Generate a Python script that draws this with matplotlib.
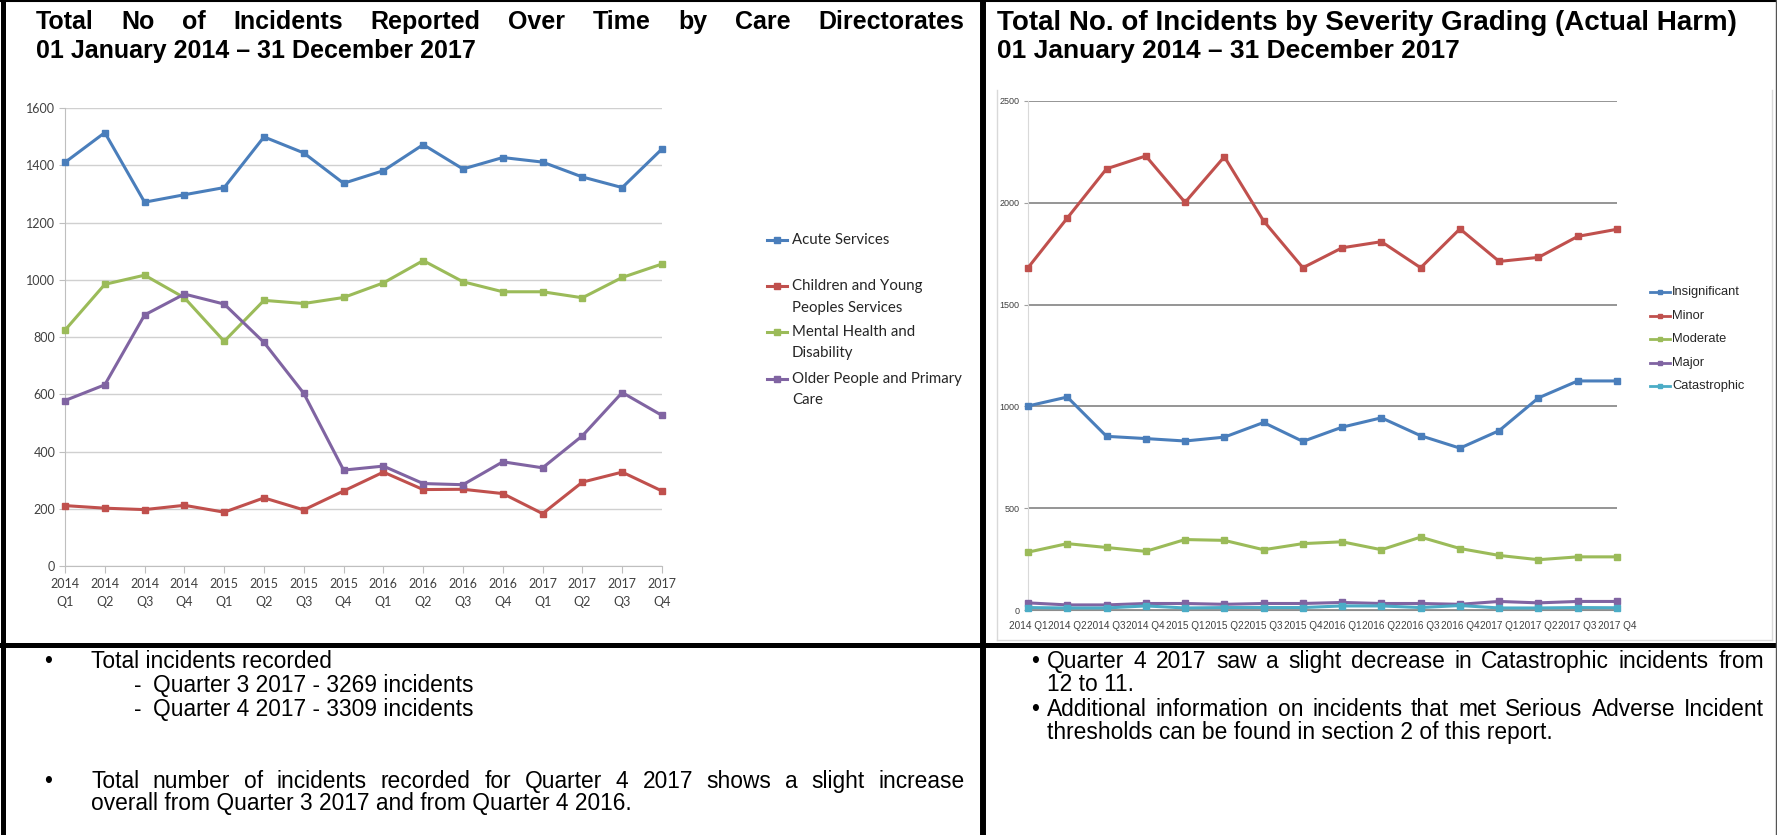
import matplotlib
matplotlib.use('Agg')
import matplotlib.pyplot as plt
from matplotlib.lines import Line2D
from matplotlib import font_manager

W, H = 1777, 835

# ---------------- data ----------------
quarters_left = ['2014\nQ1', '2014\nQ2', '2014\nQ3', '2014\nQ4',
                 '2015\nQ1', '2015\nQ2', '2015\nQ3', '2015\nQ4',
                 '2016\nQ1', '2016\nQ2', '2016\nQ3', '2016\nQ4',
                 '2017\nQ1', '2017\nQ2', '2017\nQ3', '2017\nQ4']
quarters_right = [q.replace('\n', ' ') for q in quarters_left]

acute = [1410, 1514, 1271, 1297, 1322, 1499, 1443, 1337,
         1381, 1472, 1387, 1427, 1411, 1359, 1322, 1457]
children = [211, 202, 197, 212, 188, 238, 196, 262,
            328, 267, 268, 253, 183, 293, 328, 262]
mental = [824, 984, 1016, 937, 785, 928, 917, 938,
          989, 1067, 993, 958, 958, 937, 1008, 1055]
older = [578, 633, 877, 950, 915, 781, 603, 335,
         349, 288, 284, 364, 343, 455, 606, 526]
left_labels = ['Acute Services', 'Children and Young\nPeoples Services',
               'Mental Health and\nDisability', 'Older People and Primary\nCare']

insignificant = [1002, 1046, 853, 842, 830, 849, 921, 828,
                 898, 944, 856, 795, 881, 1042, 1125, 1125]
minor = [1681, 1925, 2167, 2230, 2002, 2226, 1911, 1681,
         1779, 1809, 1681, 1872, 1712, 1732, 1835, 1870]
moderate = [284, 326, 307, 288, 346, 342, 296, 326,
            335, 296, 358, 302, 268, 247, 261, 261]
major = [35, 25, 25, 32, 32, 28, 32, 32, 37, 32, 32, 28, 42, 35, 42, 42]
catastrophic = [12, 10, 10, 20, 10, 12, 12, 12, 20, 20, 12, 22, 10, 10, 12, 11]
right_labels = ['Insignificant', 'Minor', 'Moderate', 'Major', 'Catastrophic']

colors = ['#4A7EBB', '#C0504D', '#9BBB59', '#8064A2', '#4BACC6']

left_title = ['Total No of Incidents Reported Over Time by Care Directorates',
              '01 January 2014 \u2013 31 December 2017']
right_title = ['Total No. of Incidents by Severity Grading (Actual Harm)',
               '01 January 2014 \u2013 31 December 2017']

# ---------------- fonts ----------------
avail = {f.name for f in font_manager.fontManager.ttflist}
NARROW = 'Liberation Sans Narrow' if 'Liberation Sans Narrow' in avail else 'Liberation Sans'
ARIAL = 'Liberation Sans'
CAL = 'Lato'

fig = plt.figure(figsize=(W / 100, H / 100), dpi=100)
fig.patch.set_facecolor('white')


def fx(x):
    return x / W


def fy(y):
    return 1 - y / H


def add_ax(x0, y0, x1, y1):
    return fig.add_axes([fx(x0), fy(y1), (x1 - x0) / W, (y1 - y0) / H])


renderer = fig.canvas.get_renderer()


def base(y, fontsize):
    # convert a visual centre (cap-height centre) to a baseline position
    return y + 0.358 * fontsize * 100 / 72


def put(x, y, s, **kw):
    return fig.text(fx(x), fy(base(y, kw['fontsize'])), s, va='baseline', ha='left', **kw)


def justify(text, x0, x1, y, **kw):
    words = text.split(' ')
    arts = [put(0, y, w, **kw) for w in words]
    widths = [a.get_window_extent(renderer).width for a in arts]
    gap = (x1 - x0 - sum(widths)) / (len(words) - 1)
    x = x0
    for a, wdt in zip(arts, widths):
        a.set_x(fx(x))
        x += wdt + gap


# ---------------- left chart ----------------
axL = add_ax(65, 108, 662, 566)
xs = list(range(len(quarters_left)))
for vals, c in zip([acute, children, mental, older], colors):
    axL.plot(xs, vals, color=c, lw=2.2, marker='s', ms=5, mec=c, clip_on=False, zorder=3)
axL.set_xlim(0, 15)
axL.set_ylim(0, 1600)
axL.set_yticks(range(0, 1601, 200))
axL.set_xticks(xs)
axL.set_xticklabels(quarters_left, fontsize=9, family=CAL, color='#404040', linespacing=1.6)
axL.tick_params(axis='y', labelsize=9, colors='#404040', length=4, color='#bfbfbf', pad=3)
axL.tick_params(axis='x', length=5, color='#bfbfbf', pad=4)
for lab in axL.get_yticklabels():
    lab.set_family(CAL)
axL.grid(axis='y', color='#d0d0d0', lw=1)
axL.set_axisbelow(True)
for s in ['top', 'right']:
    axL.spines[s].set_visible(False)
axL.spines['left'].set_color('#bfbfbf')
axL.spines['bottom'].set_color('#bfbfbf')

# left legend
leg_y = [240, 286, 332, 379]
for lab, c, y in zip(left_labels, colors, leg_y):
    fig.add_artist(Line2D([fx(767), fx(787)], [fy(y), fy(y)], color=c, lw=2.2))
    fig.add_artist(Line2D([fx(777)], [fy(y)], color=c, marker='s', ms=4.5))
    for i, line in enumerate(lab.split('\n')):
        fig.text(fx(792), fy(y + i * 21.5), line, fontsize=10.8, family=CAL,
                 color='#262626', va='center', ha='left')

# ---------------- right chart ----------------
axR = add_ax(1028, 101, 1617, 610)
for vals, c in zip([insignificant, minor, moderate, major, catastrophic], colors):
    axR.plot(xs, vals, color=c, lw=2.2, marker='s', ms=4.5, mec=c, clip_on=False, zorder=3)
axR.set_xlim(0, 15)
axR.set_ylim(0, 2500)
axR.set_yticks(range(0, 2501, 500))
axR.set_xticks(xs)
axR.set_xticklabels(quarters_right, fontsize=7.2, family=NARROW, color='#404040')
axR.tick_params(axis='y', labelsize=6.5, colors='#404040', length=3, color='#a0a0a0', pad=3)
axR.tick_params(axis='x', length=0, pad=8)
for lab in axR.get_yticklabels():
    lab.set_family(NARROW)
axR.grid(axis='y', color='#8c8c8c', lw=1.3)
axR.set_axisbelow(True)
for s in ['top', 'right']:
    axR.spines[s].set_visible(False)
axR.spines['left'].set_color('#d9d9d9')
axR.spines['bottom'].set_color('#8c8c8c')

rleg_y = [292, 316, 339, 363, 386]
for lab, c, y in zip(right_labels, colors, rleg_y):
    fig.add_artist(Line2D([fx(1650), fx(1670)], [fy(y), fy(y)], color=c, lw=2))
    fig.add_artist(Line2D([fx(1660)], [fy(y)], color=c, marker='s', ms=3.5))
    fig.text(fx(1672), fy(y), lab, fontsize=9.3, family=NARROW, color='#262626',
             va='center', ha='left')

# chart frame of right chart (left, bottom, right sides)
FR = '#d9d9d9'
fig.add_artist(Line2D([fx(997), fx(997)], [fy(90), fy(640)], color=FR, lw=1))
fig.add_artist(Line2D([fx(997), fx(1772)], [fy(640), fy(640)], color=FR, lw=1))
fig.add_artist(Line2D([fx(1772), fx(1772)], [fy(90), fy(640)], color=FR, lw=1))

# ---------------- titles ----------------
TT = dict(fontsize=18, family=ARIAL, weight='bold', color='black')
justify(left_title[0], 36, 964, 20, **TT)
put(36, 49, left_title[1], **TT)
put(997, 20, right_title[0], fontsize=20, family=ARIAL, weight='bold', color='black')
put(997, 49, right_title[1], fontsize=19, family=ARIAL, weight='bold', color='black')

# ---------------- bottom texts ----------------
TF = dict(fontsize=16.4, family=ARIAL, color='black')
put(44, 660, '\u2022', **TF)
put(91, 660, 'Total incidents recorded', **TF)
put(134, 684, '-', **TF)
put(153, 684, 'Quarter 3 2017 - 3269 incidents', **TF)
put(134, 708, '-', **TF)
put(153, 708, 'Quarter 4 2017 - 3309 incidents', **TF)
put(44, 780, '\u2022', **TF)
justify('Total number of incidents recorded for Quarter 4 2017 shows a slight increase',
        91, 965, 780, **TF)
put(91, 802, 'overall from Quarter 3 2017 and from Quarter 4 2016.', **TF)

put(1031, 660, '\u2022', **TF)
justify('Quarter 4 2017 saw a slight decrease in Catastrophic incidents from',
        1047, 1764, 660, **TF)
put(1047, 683, '12 to 11.', **TF)
put(1031, 708, '\u2022', **TF)
justify('Additional information on incidents that met Serious Adverse Incident',
        1047, 1764, 708, **TF)
put(1047, 731, 'thresholds can be found in section 2 of this report.', **TF)

# ---------------- borders ----------------
fig.add_artist(Line2D([fx(2.5), fx(2.5)], [0, 1], color='black', lw=3.6))
fig.add_artist(Line2D([0, 1], [fy(1), fy(1)], color='black', lw=1.5))
fig.add_artist(Line2D([fx(983.5), fx(983.5)], [0, 1], color='black', lw=4.3))
fig.add_artist(Line2D([0, 1], [fy(644.5), fy(644.5)], color='black', lw=3.6))
fig.add_artist(Line2D([fx(1776), fx(1776)], [0, 1], color='#555555', lw=1))

fig.savefig('out.png', dpi=100)
